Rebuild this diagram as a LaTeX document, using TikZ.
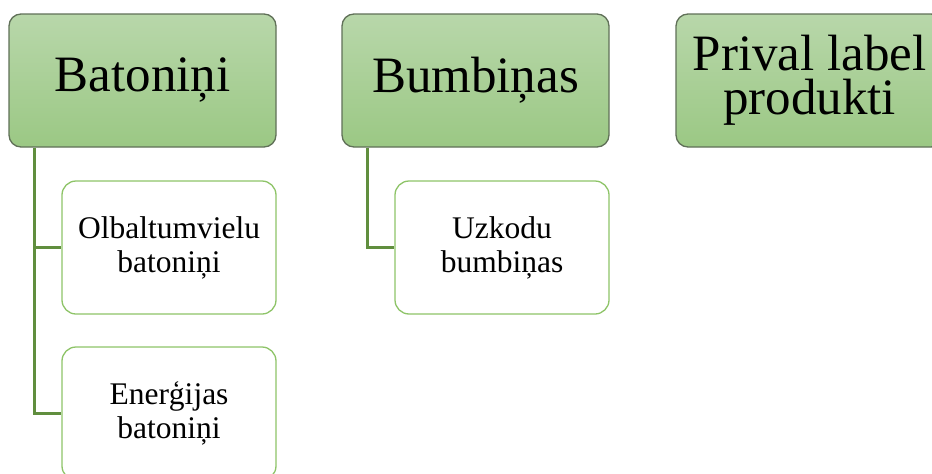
\documentclass[tikz,border=0pt]{standalone}
\usepackage{fontspec}
\setmainfont{Liberation Serif}
\usepackage{tikz}
\usetikzlibrary{positioning}
\definecolor{topgreen}{RGB}{184,215,170}
\definecolor{botgreen}{RGB}{155,200,132}
\definecolor{headline}{RGB}{96,112,88}
\definecolor{leafline}{RGB}{142,196,104}
\definecolor{conn}{RGB}{96,142,62}

\tikzset{
  head/.style={draw=headline, line width=1.3pt, rounded corners=12pt,
    top color=topgreen, bottom color=botgreen,
    minimum width=267pt, minimum height=133pt, inner sep=0pt,
    align=center, font=\fontsize{51}{44}\selectfont},
  leaf/.style={draw=leafline, line width=1.3pt, rounded corners=14pt, fill=white,
    minimum width=214pt, minimum height=133pt, inner sep=0pt,
    align=center, font=\fontsize{31.5}{34}\selectfont},
  link/.style={draw=conn, line width=3pt}
}

\begin{document}
\begin{tikzpicture}[x=1pt,y=-1pt]
      \useasboundingbox (0,0) rectangle (932,474);
      \clip (0,0) rectangle (932,474);

      \path
      (142.5,80.5) node[head](bat) {Batoniņi}
      (475.5,80.5) node[head](bum) {Bumbiņas}
      (809.5,80.5) node[head](priv) {Prival label\\produkti}
      ;
      \path
      (169,247.5) node[leaf](olb) {Olbaltumvielu\\batoniņi}
      (169,413.5) node[leaf](ene) {Enerģijas\\batoniņi}
      (502,247.5) node[leaf](uzk) {Uzkodu\\bumbiņas}
      ;

      \coordinate (batx) at ([xshift=26pt]bat.south west);
      \coordinate (bumx) at ([xshift=26pt]bum.south west);

      \draw[link] (batx) |- (olb.west);
      \draw[link] (batx) |- (ene.west);
      \draw[link] (bumx) |- (uzk.west);
    \end{tikzpicture}
\end{document}
